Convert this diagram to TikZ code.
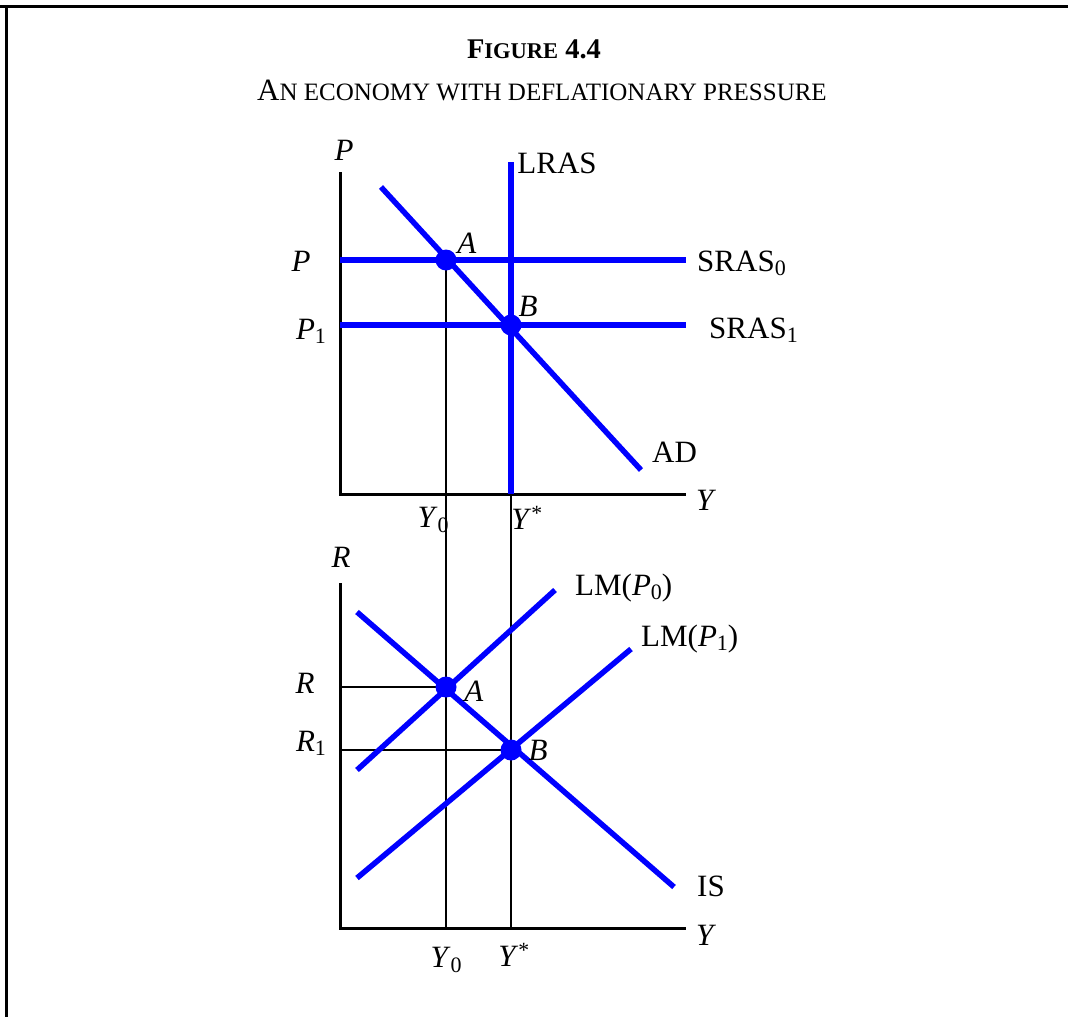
\documentclass[tikz,border=0pt]{standalone}
\usepackage{fontspec}
\setmainfont{Liberation Serif}
\definecolor{CurveBlue}{RGB}{0,0,255}
\newcommand{\lowsub}[1]{\raisebox{-0.3ex}{\fontsize{22}{22}\selectfont #1}}

\begin{document}
\begin{tikzpicture}[x=1pt,y=-1pt,
    curve/.style={draw=CurveBlue,line width=5.5pt},
    axis/.style={draw=black,line width=3pt},
    guide/.style={draw=black,line width=1.5pt},
    lbl/.style={font=\fontsize{31}{36}\selectfont,inner sep=0pt}]
  \useasboundingbox (0,0) rectangle (1068,1017);
  % frame
  \draw[line width=3pt] (0,6) -- (1068,6);
  \draw[line width=3pt] (6,6) -- (6,1017);

  % title
  \node[anchor=base,inner sep=0pt] (title) at (534,58)
    {\fontsize{28.5}{30}\selectfont\bfseries F{\fontsize{22.5}{24}\selectfont IGURE} 4.4};
  \node[anchor=base,inner sep=0pt] (subtitle) at (542,100)
    {\fontsize{31}{33}\selectfont A{\fontsize{25}{26}\selectfont N ECONOMY WITH DEFLATIONARY PRESSURE}};

  % upper panel: AS-AD
  \coordinate (ptA) at (446,260);
  \coordinate (ptB) at (511,325);
  \draw[guide] (ptA) -- (446,928);
  \draw[guide] (511,494) -- (511,928);
  \draw[axis] (340,172) -- (340,494) -- (686,494);
  \draw[curve] (340,260) -- (686,260);
  \draw[curve] (340,325) -- (686,325);
  \draw[curve] (511,162) -- (511,494);
  \draw[curve] (381,187) -- (641,470);
  \fill[CurveBlue] (ptA) circle (10.5);
  \fill[CurveBlue] (ptB) circle (10.5);

  \node[lbl] (axP) at (344,150) {\textit{P}};
  \node[lbl] (lras) at (557,163) {LRAS};
  \node[lbl,anchor=west] (sras0) at (697,263) {SRAS\lowsub{0}};
  \node[lbl,anchor=west] (sras1) at (709,330) {SRAS\lowsub{1}};
  \node[lbl,anchor=west] (ad) at (652,452) {AD};
  \node[lbl] (labA) at (467,243) {\textit{A}};
  \node[lbl] (labB) at (528,306) {\textit{B}};
  \node[lbl] (pzero) at (301,261) {\textit{P}};
  \node[lbl] (pone) at (311,331) {\textit{P}\lowsub{1}};
  \node[lbl] (axY) at (706,500) {\textit{Y}};
  \node[lbl] (yzero) at (433,520) {\textit{Y}\lowsub{0}};
  \node[lbl] (ystar) at (527,518) {\textit{Y}\textsuperscript{*}};

  % lower panel: IS-LM
  \coordinate (ptC) at (446,687);
  \coordinate (ptD) at (511,750);
  \draw[guide] (340,687) -- (ptC);
  \draw[guide] (340,750) -- (ptD);
  \draw[axis] (340,583) -- (340,928) -- (686,928);
  \draw[curve] (357,770) -- (555,590);
  \draw[curve] (357,878) -- (631,649);
  \draw[curve] (357,612) -- (674,887);
  \fill[CurveBlue] (ptC) circle (10.5);
  \fill[CurveBlue] (ptD) circle (10.5);

  \node[lbl] (axR) at (341,557) {\textit{R}};
  \node[lbl,anchor=west] (lmzero) at (575,588) {LM(\textit{P}\lowsub{0})};
  \node[lbl,anchor=west] (lmone) at (641,639) {LM(\textit{P}\lowsub{1})};
  \node[lbl] (labC) at (474,691) {\textit{A}};
  \node[lbl] (labD) at (538,750) {\textit{B}};
  \node[lbl] (rzero) at (305,683) {\textit{R}};
  \node[lbl] (rone) at (311,743) {\textit{R}\lowsub{1}};
  \node[lbl,anchor=west] (is) at (697,886) {IS};
  \node[lbl] (axYb) at (706,935) {\textit{Y}};
  \node[lbl] (yzerob) at (446,960) {\textit{Y}\lowsub{0}};
  \node[lbl] (ystarb) at (514,955) {\textit{Y}\textsuperscript{*}};
\end{tikzpicture}
\end{document}
